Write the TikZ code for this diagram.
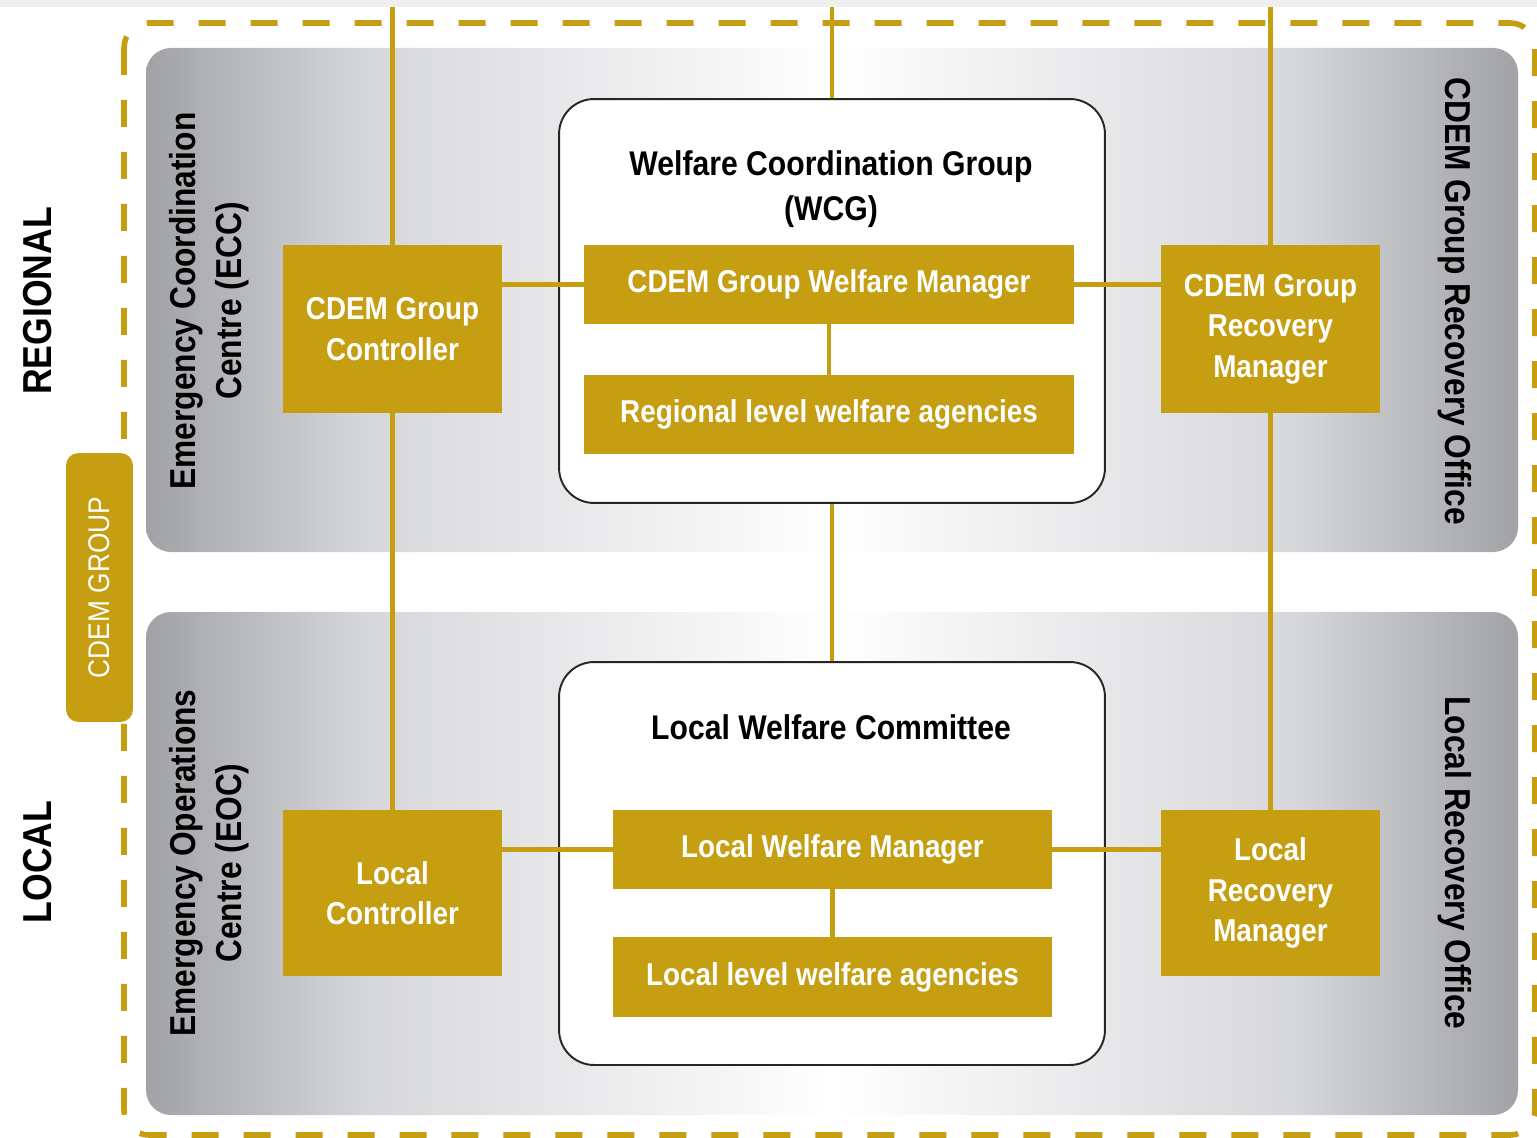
\documentclass[tikz,border=0pt]{standalone}
\usepackage{fontspec}
\setmainfont{Liberation Sans}
\newfontfamily\condfont{Liberation Sans}[FakeStretch=0.88]

\definecolor{gold}{RGB}{197,158,18}
\definecolor{pgrey}{RGB}{160,162,166}
\definecolor{pmid}{RGB}{214,215,218}
\definecolor{strip}{RGB}{239,239,239}

\pgfdeclarehorizontalshading{panelshade}{100bp}{color(0bp)=(pgrey); color(25bp)=(pgrey); color(33bp)=(pmid); color(50bp)=(white); color(67bp)=(pmid); color(75bp)=(pgrey); color(100bp)=(pgrey)}

\tikzset{
	goldbox/.style={fill=gold, text=white, inner sep=0pt, align=center, font=\condfont\bfseries\fontsize{18}{23}\selectfont},
	whitebox/.style={draw=black!85, line width=1.1pt, fill=white, rounded corners=0.7cm, inner sep=0pt},
	goldline/.style={draw=gold, line width=2.4pt},
	panel/.style={shading=panelshade, rounded corners=0.5cm},
	sidelabel/.style={align=center, font=\condfont\bfseries\fontsize{20.5}{26.5}\selectfont},
	levellabel/.style={font=\condfont\bfseries\fontsize{23}{26}\selectfont},
	title/.style={align=center, font=\condfont\bfseries\fontsize{19.5}{25.5}\selectfont},
}

\begin{document}
\begin{tikzpicture}[
		x={(0.02cm,0cm)},
		y={(0cm,-0.02cm)},
	]
		\useasboundingbox (0,0) rectangle (1537,1138);
		\fill[strip] (0,0) rectangle (1537,7);
		
		% grey panels and group border
		\shade[panel] (146,48) rectangle (1518,552);
		\shade[panel] (146,612) rectangle (1518,1115);
		\draw[gold, line width=3.2pt, dash pattern=on 0.54cm off 0.5cm, rounded corners=0.5cm] (124,23) rectangle (1535,1135);
		
		% labels at the sides
		\node[levellabel, rotate=90] (regional) at (38,301) {REGIONAL};
		\node[levellabel, rotate=90] (local) at (38,862) {LOCAL};
		\node[fill=gold, rounded corners=0.25cm, minimum width=5.38cm, minimum height=1.34cm, text=white, rotate=90, font=\condfont\fontsize{17}{20}\selectfont] (cdemgroup) at (99.5,587.5) {CDEM GROUP};
		\node[sidelabel, rotate=90] (ecc) at (209,301) {Emergency Coordination\\Centre (ECC)};
		\node[sidelabel, rotate=90] (eoc) at (209,863) {Emergency Operations\\Centre (EOC)};
		\node[sidelabel, rotate=-90] (gro) at (1455,301) {CDEM Group Recovery Office};
		\node[sidelabel, rotate=-90] (lro) at (1455,863) {Local Recovery Office};
		
		% welfare groups
		\node[whitebox, minimum width=10.92cm, minimum height=8.08cm] (wcg) at (832,301) {};
		\node[whitebox, minimum width=10.92cm, minimum height=8.06cm] (lwc) at (832,863.5) {};
		\node[title] (wcgtitle) at (831,189) {Welfare Coordination Group\\(WCG)};
		\node[title] (lwctitle) at (831,727) {Local Welfare Committee};
		
		\node[goldbox, minimum width=4.38cm, minimum height=3.36cm] (gc) at (392.5,329) {CDEM Group\\Controller};
		\node[goldbox, minimum width=4.38cm, minimum height=3.36cm] (gr) at (1270.5,329) {CDEM Group\\Recovery\\Manager};
		\node[goldbox, minimum width=4.38cm, minimum height=3.32cm] (lc) at (392.5,893) {Local\\Controller};
		\node[goldbox, minimum width=4.38cm, minimum height=3.32cm] (lr) at (1270.5,893) {Local\\Recovery\\Manager};
		\node[goldbox, minimum width=9.8cm, minimum height=1.58cm] (wm) at (829,284.5) {CDEM Group Welfare Manager};
		\node[goldbox, minimum width=9.8cm, minimum height=1.58cm] (ra) at (829,414.5) {Regional level welfare agencies};
		\node[goldbox, minimum width=8.78cm, minimum height=1.58cm] (lwm) at (832.5,849.5) {Local Welfare Manager};
		\node[goldbox, minimum width=8.78cm, minimum height=1.6cm] (la) at (832.5,977) {Local level welfare agencies};
		
		% connectors
		\coordinate (gctop) at (392.5,7);
		\coordinate (wcgtop) at (832,7);
		\coordinate (grtop) at (1270.5,7);
		\draw[goldline] (gctop) -- (gc.north);
		\draw[goldline] (wcgtop) -- (wcg.north);
		\draw[goldline] (grtop) -- (gr.north);
		\draw[goldline] (gc.south) -- (lc.north);
		\draw[goldline] (wcg.south) -- (lwc.north);
		\draw[goldline] (gr.south) -- (lr.north);
		\draw[goldline] (wm.south) -- (ra.north);
		\draw[goldline] (lwm.south) -- (la.north);
		\draw[goldline] (wm.west) -- (wm.west -| gc.east);
		\draw[goldline] (wm.east) -- (wm.east -| gr.west);
		\draw[goldline] (lwm.west) -- (lwm.west -| lc.east);
		\draw[goldline] (lwm.east) -- (lwm.east -| lr.west);
	\end{tikzpicture}
\end{document}
